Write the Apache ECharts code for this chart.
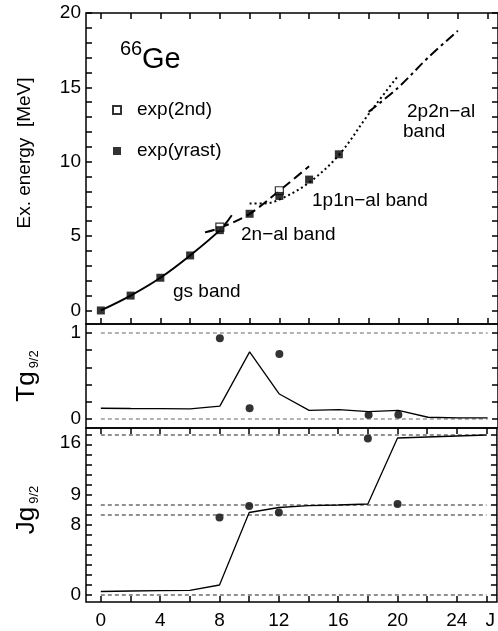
<!DOCTYPE html>
<html>
<head>
<meta charset="utf-8">
<script src="https://cdn.jsdelivr.net/npm/echarts@6/dist/echarts.min.js"></script>
<style>
  html, body { margin: 0; background: #fff; }
  #chart { width: 498px; height: 631px; }
</style>
</head>
<body>
<div id="chart"></div>
<script>
// ---- data ----
// top panel: excitation energy [MeV] vs J
const yrastJ = [0, 2, 4, 6, 8, 10, 12, 14, 16]
const yrastE = [0, 1.0, 2.2, 3.7, 5.4, 6.5, 7.7, 8.8, 10.5]
const secondJ = [8, 12]
const secondE = [5.6, 8.05]

const gsJ = [0, 2, 4, 6, 8, 8.8]
const gsE = [0, 1.0, 2.2, 3.7, 5.4, 6.4]
const twoNJ = [7, 8, 10, 12, 14]
const twoNE = [5.25, 5.55, 6.5, 8.05, 9.7]
const pnJ = [10, 11, 12, 14, 16, 18, 20]
const pnE = [7.2, 7.2, 7.45, 8.6, 10.45, 13.2, 15.8]
const ppnnJ = [18, 20, 22, 24]
const ppnnE = [13.35, 15.0, 17.0, 18.8]

// middle panel: T g9/2
const calcJ = [0, 2, 4, 6, 8, 10, 12, 14, 16, 18, 20, 22, 24, 26]
const tCalc = [0.125, 0.122, 0.12, 0.118, 0.15, 0.78, 0.29, 0.1, 0.108, 0.085, 0.1, 0.02, 0.012, 0.012]
const tDotJ = [8, 10, 12, 18, 20]
const tDot = [0.94, 0.125, 0.755, 0.045, 0.048]
const tRef = [0, 1]

// bottom panel: J g9/2
const jCalc = [0.35, 0.4, 0.43, 0.47, 1.0, 8.25, 8.75, 8.93, 9.0, 9.1, 15.7, 15.8, 15.9, 16.0]
const jDotJ = [8, 10, 12, 18, 20]
const jDot = [7.75, 8.9, 8.25, 15.65, 9.1]
const jRef = [0, 8, 9, 16]
const refSpan = [0, 26]

// ticks and labels (the axis title "J" sits where a 28 label would start)
const xTicks = [0, 2, 4, 6, 8, 10, 12, 14, 16, 18, 20, 22, 24, 26]
const xLabels = [0, 4, 8, 12, 16, 20, 24, 26.25]
const eTicks = [0, 1, 2, 3, 4, 5, 6, 7, 8, 9, 10, 11, 12, 13, 14, 15, 16, 17, 18, 19, 20]
const eLabels = [0, 5, 10, 15, 20]
const tTicks = [0, 0.2, 0.4, 0.6, 0.8, 1]
const tLabels = [0, 1]
const jTicks = [0, 1, 2, 3, 4, 5, 6, 7, 8, 9, 10, 11, 12, 13, 14, 15, 16]
const jLabels = [0, 8, 9, 16]

const FONT = 'Liberation Sans, Arial, sans-serif'
const zip = (xs, ys) => xs.map((x, i) => [x, ys[i]])

const chart = echarts.init(document.getElementById('chart'), null, { renderer: 'canvas' })

const frame = { show: true, borderColor: '#000', borderWidth: 1.5, backgroundColor: 'transparent' }
const tick = (vals, show) => ({ show: show, inside: true, length: 6, customValues: vals, lineStyle: { color: '#000', width: 1.5 } })
const noLabel = { show: false }
const noLine = { show: false, onZero: false }

function xAx(grid, pos, ticks, labels) {
  return {
    type: 'value', gridIndex: grid, position: pos, min: -1, max: 26.7,
    axisLine: noLine, splitLine: { show: false },
    axisTick: tick(xTicks, ticks),
    axisLabel: labels ? {
      customValues: xLabels, margin: 9, color: '#000', fontSize: 19, fontFamily: FONT,
      formatter: v => (v > 25 ? 'J' : String(v))
    } : noLabel
  }
}

function yAx(grid, pos, min, max, ticks, labels, fmt) {
  return {
    type: 'value', gridIndex: grid, position: pos, min: min, max: max,
    axisLine: noLine, splitLine: { show: false },
    axisTick: tick(ticks, true),
    axisLabel: labels ? {
      customValues: labels, margin: 5, color: '#000', fontSize: 19, fontFamily: FONT,
      formatter: fmt,
      rich: {
        up: { fontSize: 19, fontFamily: FONT, padding: [0, 0, 20, 0] },
        dn: { fontSize: 19, fontFamily: FONT, padding: [20, 0, 0, 0] },
        dn2: { fontSize: 19, fontFamily: FONT, padding: [15, 0, 0, 0] }
      }
    } : noLabel
  }
}

// labels in the J panel sit a bit off their ticks in the original
function jFmt(v) {
  if (v === 9) return '{up|9}'
  if (v === 8) return '{dn|8}'
  if (v === 16) return '{dn2|16}'
  return String(v)
}

function theory(name, xs, ys, type, width) {
  return {
    name: name, type: 'line', xAxisIndex: 0, yAxisIndex: 0, data: zip(xs, ys),
    smooth: 0.35, symbol: 'none', z: 2,
    lineStyle: { color: '#000', width: width, type: type }
  }
}

function refLines(vals, xi, yi, color) {
  return vals.map(v => ({
    type: 'line', xAxisIndex: xi, yAxisIndex: yi, symbol: 'none', silent: true,
    data: refSpan.map(x => [x, v]),
    lineStyle: { color: color, width: 1.2, type: [4, 3] }
  }))
}

function txt(text, x, y, size) {
  return {
    type: 'text', x: x, y: y,
    style: { text: text, fontSize: size, fontFamily: FONT, fill: '#000', align: 'left', verticalAlign: 'middle' }
  }
}

// rotated panel title with a g_{9/2} subscript
function subTitle(head, x, y) {
  return {
    type: 'text', x: x, y: y, rotation: Math.PI / 2,
    style: {
      text: '{b|' + head + 'g}{s|9/2}', align: 'center', verticalAlign: 'middle', fill: '#000',
      rich: {
        b: { fontSize: 26, fontFamily: FONT, verticalAlign: 'middle', lineHeight: 28 },
        s: { fontSize: 13, fontFamily: FONT, verticalAlign: 'bottom', lineHeight: 13, padding: [0, 0, 0, 3] }
      }
    }
  }
}

const option = {
  animation: false,
  backgroundColor: '#fff',
  grid: [
    Object.assign({ left: 86, right: 0, top: 13, height: 311 }, frame),
    Object.assign({ left: 86, right: 0, top: 324, height: 104 }, frame),
    Object.assign({ left: 86, right: 0, top: 428, height: 174 }, frame)
  ],
  xAxis: [
    xAx(0, 'bottom', true, false),
    xAx(0, 'top', true, false),
    xAx(1, 'bottom', false, false),
    xAx(2, 'bottom', true, true),
    xAx(2, 'top', true, false)
  ],
  yAxis: [
    yAx(0, 'left', -0.91, 20, eTicks, eLabels),
    yAx(0, 'right', -0.91, 20, eTicks, null),
    yAx(1, 'left', -0.105, 1.105, tTicks, tLabels),
    yAx(1, 'right', -0.105, 1.105, tTicks, null),
    yAx(2, 'left', -0.7, 16.7, jTicks, jLabels, jFmt),
    yAx(2, 'right', -0.7, 16.7, jTicks, null)
  ],
  legend: {
    orient: 'vertical', left: 107, top: 95, itemWidth: 8, itemHeight: 8, itemGap: 21,
    icon: 'rect',
    data: ['exp(2nd)', 'exp(yrast)'],
    textStyle: { color: '#000', fontSize: 19, fontFamily: FONT, lineHeight: 20, padding: [0, 0, 0, 11] }
  },
  series: [
    theory('gs band', gsJ, gsE, 'solid', 2),
    theory('2n-al band', twoNJ, twoNE, [10, 5], 2),
    theory('1p1n-al band', pnJ, pnE, [2, 3], 2),
    theory('2p2n-al band', ppnnJ, ppnnE, [10, 4, 3, 4], 2),
    {
      name: 'exp(2nd)', type: 'scatter', xAxisIndex: 0, yAxisIndex: 0, data: zip(secondJ, secondE),
      symbol: 'rect', symbolSize: 8, z: 5,
      itemStyle: { color: '#fff', borderColor: '#000', borderWidth: 1.2 }
    },
    {
      name: 'exp(yrast)', type: 'scatter', xAxisIndex: 0, yAxisIndex: 0, data: zip(yrastJ, yrastE),
      symbol: 'rect', symbolSize: 8, z: 6,
      itemStyle: { color: '#000' }
    },
    ...refLines(tRef, 2, 2, '#666'),
    {
      type: 'line', xAxisIndex: 2, yAxisIndex: 2, data: zip(calcJ, tCalc), symbol: 'none',
      lineStyle: { color: '#000', width: 1.3 }
    },
    {
      type: 'scatter', xAxisIndex: 2, yAxisIndex: 2, data: zip(tDotJ, tDot),
      symbol: 'circle', symbolSize: 8, itemStyle: { color: '#000' }
    },
    ...refLines(jRef, 3, 4, '#222'),
    {
      type: 'line', xAxisIndex: 3, yAxisIndex: 4, data: zip(calcJ, jCalc), symbol: 'none',
      lineStyle: { color: '#000', width: 1.3 }
    },
    {
      type: 'scatter', xAxisIndex: 3, yAxisIndex: 4, data: zip(jDotJ, jDot),
      symbol: 'circle', symbolSize: 8, itemStyle: { color: '#000' }
    }
  ],
  graphic: [
    txt('66', 120, 49, 20),
    txt('Ge', 142, 60, 29),
    txt('gs band', 173, 292, 19),
    txt('2n\u2212al band', 241, 235, 19),
    txt('1p1n\u2212al band', 312, 201, 19),
    txt('2p2n\u2212al', 407, 112, 19),
    txt('band', 403, 132, 19),
    {
      type: 'text', x: 25, y: 153, rotation: Math.PI / 2,
      style: { text: 'Ex. energy  [MeV]', fontSize: 19, fontFamily: FONT, fill: '#000', align: 'center', verticalAlign: 'middle' }
    },
    subTitle('T', 27, 376),
    subTitle('J', 27, 510)
  ]
}

chart.setOption(option)
</script>
</body>
</html>
